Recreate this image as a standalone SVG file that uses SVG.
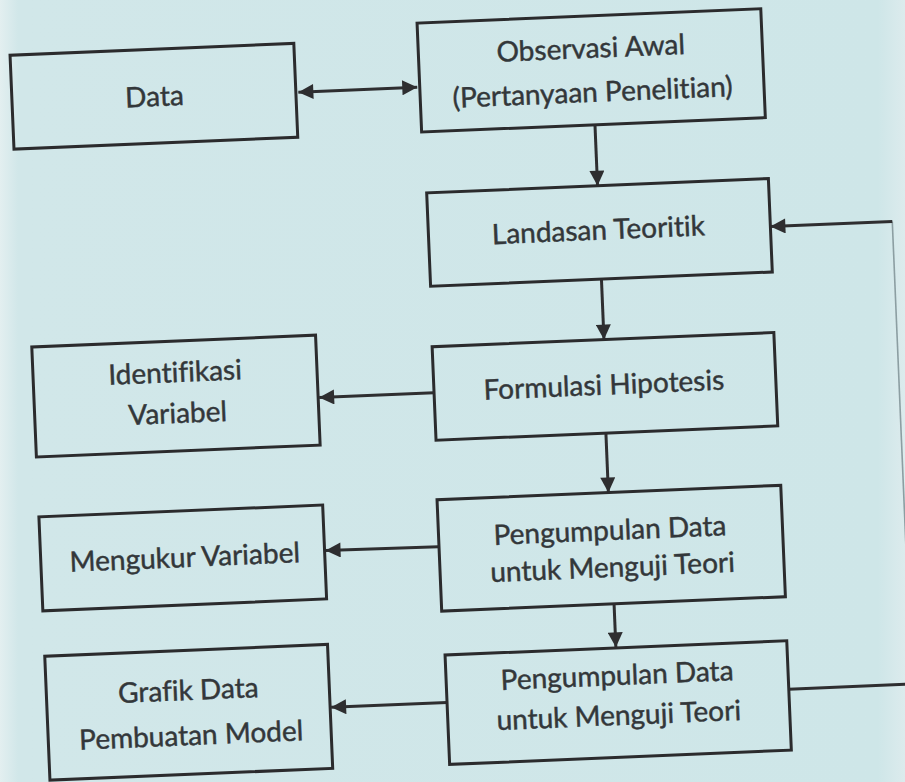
<svg xmlns="http://www.w3.org/2000/svg" width="905" height="782" viewBox="0 0 905 782">
  <defs>
    <linearGradient id="page" x1="0" y1="0" x2="1" y2="0">
      <stop offset="0" stop-color="#e3eff0"/>
      <stop offset="0.02" stop-color="#d1e7e9"/>
      <stop offset="0.97" stop-color="#cee6e8"/>
      <stop offset="1" stop-color="#dcebed"/>
    </linearGradient>
    <marker id="ah" viewBox="0 0 10 10" refX="10" refY="5" markerWidth="18" markerHeight="15" markerUnits="userSpaceOnUse" orient="auto-start-reverse">
      <path d="M0,0 L10,5 L0,10 Z" fill="#2e2e30"/>
    </marker>
    <style>
      .box { fill: none; stroke: #2b2b2d; stroke-width: 3; }
      .lbl { font-family: Lato, "Open Sans", "Liberation Sans", sans-serif; font-size: 28px; fill: #33373a; stroke: #33373a; stroke-width: 0.45; text-anchor: middle; font-variant-ligatures: none; font-feature-settings: "liga" 0; }
      .conn { fill: none; stroke: #2e2e30; stroke-width: 3; }
      .faint { fill: none; stroke: #8c9ea2; stroke-width: 1.6; }
    </style>
  </defs>
  <rect x="0" y="0" width="905" height="782" fill="url(#page)"/>
  <g transform="rotate(-2.4 452 391)">
    <g id="connectors">
      <line class="conn" x1="311" y1="86" x2="430" y2="86" marker-start="url(#ah)" marker-end="url(#ah)"/>
      <line class="conn" x1="606" y1="131" x2="606" y2="192" marker-end="url(#ah)"/>
      <line class="conn" x1="606" y1="285" x2="606" y2="346" marker-end="url(#ah)"/>
      <line class="conn" x1="604" y1="440" x2="604" y2="499" marker-end="url(#ah)"/>
      <line class="conn" x1="605" y1="611" x2="605" y2="654" marker-end="url(#ah)"/>
      <line class="conn" x1="434" y1="392" x2="319" y2="392" marker-end="url(#ah)"/>
      <line class="conn" x1="432" y1="546" x2="319" y2="545" marker-end="url(#ah)"/>
      <line class="conn" x1="434" y1="702" x2="318" y2="702" marker-end="url(#ah)"/>
      <line class="conn" x1="776" y1="703" x2="925" y2="703"/>
      <line class="faint" x1="899" y1="240" x2="899" y2="703"/>
      <line class="conn" x1="899" y1="240" x2="777" y2="240" marker-end="url(#ah)"/>
    </g>
    <g id="data">
      <rect class="box" x="24.5" y="37" width="284" height="94"/>
      <text class="lbl" x="167" y="94">Data</text>
    </g>
    <g id="observasi">
      <rect class="box" x="432.5" y="22" width="344" height="109"/>
      <text class="lbl" x="605" y="64">Observasi Awal</text>
      <text class="lbl" x="605" y="108">(Pertanyaan Penelitian)</text>
    </g>
    <g id="landasan">
      <rect class="box" x="435" y="192" width="342" height="93.5"/>
      <text class="lbl" x="605" y="246">Landasan Teoritik</text>
    </g>
    <g id="formulasi">
      <rect class="box" x="434" y="346" width="342" height="93.5"/>
      <text class="lbl" x="604" y="401">Formulasi Hipotesis</text>
    </g>
    <g id="pengumpulan1">
      <rect class="box" x="432.5" y="499" width="344" height="111.5"/>
      <text class="lbl" x="604" y="546.5">Pengumpulan Data</text>
      <text class="lbl" x="605" y="583.5">untuk Menguji Teori</text>
    </g>
    <g id="pengumpulan2">
      <rect class="box" x="434" y="654.5" width="342" height="109.5"/>
      <text class="lbl" x="605" y="691.7">Pengumpulan Data</text>
      <text class="lbl" x="605" y="731.7">untuk Menguji Teori</text>
    </g>
    <g id="identifikasi">
      <rect class="box" x="34" y="329.5" width="284" height="110"/>
      <text class="lbl" x="176" y="370.5">Identifikasi</text>
      <text class="lbl" x="177" y="411.5">Variabel</text>
    </g>
    <g id="mengukur">
      <rect class="box" x="34" y="499.5" width="284" height="94"/>
      <text class="lbl" x="178" y="555.7">Mengukur Variabel</text>
    </g>
    <g id="grafik">
      <rect class="box" x="34" y="639" width="283" height="124"/>
      <text class="lbl" x="176" y="688.7">Grafik Data</text>
      <text class="lbl" x="177" y="733.8">Pembuatan Model</text>
    </g>
  </g>
</svg>
